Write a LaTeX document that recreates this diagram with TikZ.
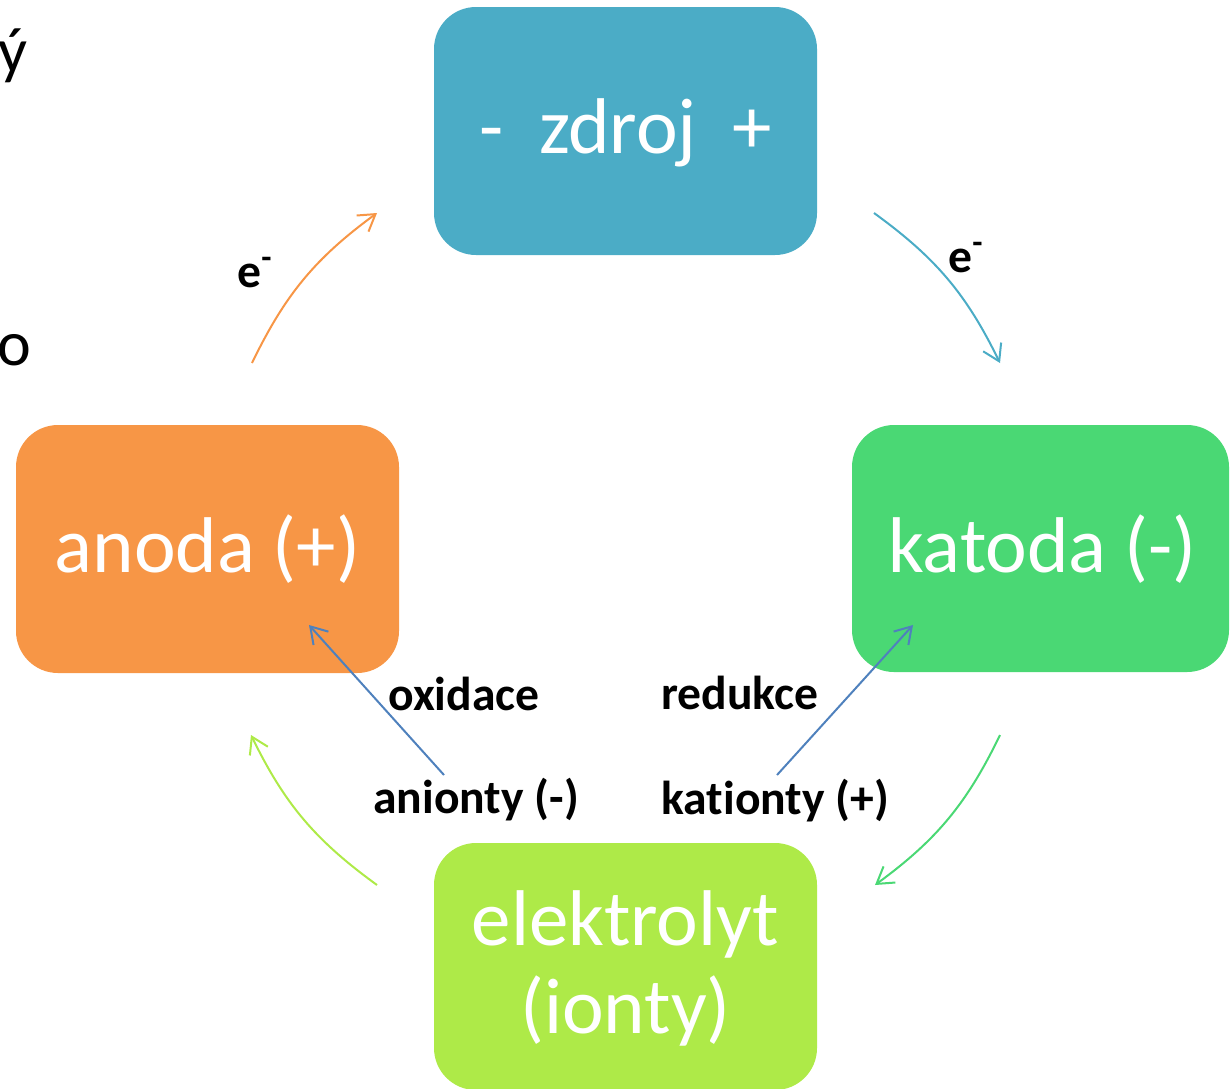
\documentclass[tikz,border=0pt]{standalone}
\usepackage{fontspec}
\setmainfont{Carlito}[Ligatures=NoCommon]
\usetikzlibrary{arrows.meta,calc}

\definecolor{srcblue}{HTML}{4BACC6}
\definecolor{anodeorange}{HTML}{F79646}
\definecolor{cathodegreen}{RGB}{74,216,116}
\definecolor{electrolytegreen}{RGB}{174,234,72}
\definecolor{ionblue}{HTML}{4F81BD}

\tikzset{
  cellbox/.style={rounded corners=21pt, inner sep=0pt, draw=none},
  boxtext/.style={text=white, inner sep=0pt, anchor=base,
    font=\fontsize{39.5}{44}\selectfont},
  tag/.style={inner sep=0pt, anchor=base west,
    font=\fontsize{23.8}{28}\selectfont\bfseries},
  sidetext/.style={inner sep=0pt, anchor=base east,
    font=\fontsize{32}{38}\selectfont},
  flow/.style={line width=1pt, -{Straight Barb[length=8pt,width=10pt]}},
}

\begin{document}
\begin{tikzpicture}[x=0.5pt,y=-0.5pt]
\useasboundingbox (0,0) rectangle (1230,1088);

% fragments of the neighbouring text column
\node[sidetext] (s1) at (28,72) {ý};
\node[sidetext] (s2) at (32,365) {o};

% the four parts of the cell
\node[cellbox, fill=srcblue, minimum width=191.5pt, minimum height=124pt]
  (zdroj) at (625.5,131) {};
\node[cellbox, fill=anodeorange, minimum width=191.5pt, minimum height=124pt]
  (anoda) at (207.5,549) {};
\node[cellbox, fill=cathodegreen, minimum width=188.5pt, minimum height=123.5pt]
  (katoda) at (1040.5,548.5) {};
\node[cellbox, fill=electrolytegreen, minimum width=191.5pt, minimum height=123.5pt]
  (elektrolyt) at (625.5,966.5) {};

\node[boxtext] (tz) at ($(zdroj.center)+(0,22)$) {-\ \ zdroj\ \ +};
\node[boxtext] (ta) at ($(anoda.center)+(0,23)$) {anoda (+)};
\node[boxtext] (tk) at ($(katoda.center)+(2,23.5)$) {katoda (-)};
\node[boxtext] (te1) at ($(elektrolyt.center)+(0,-21.5)$) {elektrolyt};
\node[boxtext] (te2) at ($(elektrolyt.center)+(0,66.5)$) {(ionty)};

% electron and ion flow
\coordinate (o1) at (252,363);  \coordinate (o2) at (377,213);
\coordinate (b1) at (874,213);  \coordinate (b2) at (1000,363);
\coordinate (g1) at (1000,735); \coordinate (g2) at (875,885);
\coordinate (y1) at (377,885);  \coordinate (y2) at (251,735);

\draw[flow, anodeorange] (o1) to[bend left=14] (o2);
\draw[flow, srcblue] (b1) to[bend left=14] (b2);
\draw[flow, cathodegreen] (g1) to[bend left=14] (g2);
\draw[flow, electrolytegreen] (y1) to[bend left=14] (y2);

\coordinate (an1) at (444,775); \coordinate (an2) at (309,625);
\coordinate (ka1) at (777,775); \coordinate (ka2) at (913,625);
\draw[flow, ionblue] (an1) -- (an2);
\draw[flow, ionblue] (ka1) -- (ka2);

% labels
\node[tag] (eL) at (237,287) {e\textsuperscript{-}};
\node[tag] (eR) at (948,272) {e\textsuperscript{-}};
\node[tag] (ox) at (388,710) {oxidace};
\node[tag] (red) at (661,709) {redukce};
\node[tag] (an) at (373,813) {anionty (-)};
\node[tag] (kat) at (661,814) {kationty (+)};
\end{tikzpicture}
\end{document}
